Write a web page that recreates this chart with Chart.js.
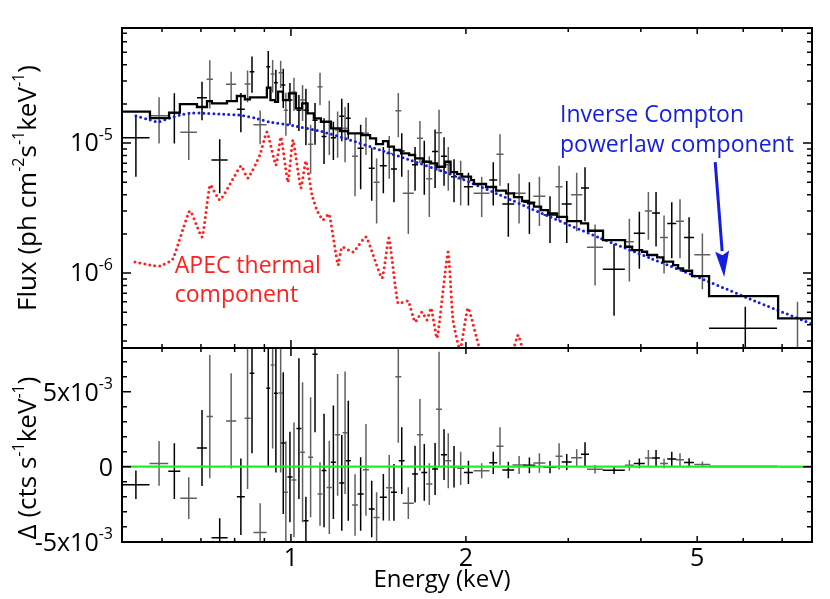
<!DOCTYPE html>
<html>
<head>
<meta charset="utf-8">
<script src="https://cdn.jsdelivr.net/npm/chart.js@4.4.1/dist/chart.umd.min.js"></script>
<style>
  html, body { margin: 0; padding: 0; background: #fff; }
  #wrap { position: relative; width: 830px; height: 599px; }
  #topBox { position: absolute; left: 0; top: 0; width: 830px; height: 350px; }
  #botBox { position: absolute; left: 0; top: 346px; width: 830px; height: 253px; }
</style>
</head>
<body>
<div id="wrap">
  <div id="topBox"><canvas id="chartTop"></canvas></div>
  <div id="botBox"><canvas id="chartBottom"></canvas></div>
</div>
<script>
// Spectrum points (keV), half bin widths (keV)
const energy = [0.541,0.593,0.630,0.667,0.703,0.725,0.754,0.789,0.820,0.842,
                0.857,0.885,0.914,0.930,0.942,0.960,0.970,0.980,0.996,1.012,
                1.032,1.047,1.061,1.081,1.100,1.122,1.140,1.164,1.183,1.203,
                1.223,1.239,1.255,1.289,1.318,1.346,1.377,1.404,1.442,1.476,
                1.504,1.530,1.551,1.592,1.635,1.667,1.696,1.730,1.770,1.798,
                1.834,1.865,1.908,1.959,2.020,2.129,2.229,2.289,2.366,2.469,
                2.572,2.676,2.791,2.893,2.982,3.102,3.206,3.336,3.597,3.822,
                3.976,4.121,4.248,4.385,4.521,4.671,4.842,5.104,6.05,7.44];
const energyErr = [0.030,0.022,0.015,0.022,0.014,0.009,0.024,0.016,0.013,0.010,
                   0.008,0.023,0.007,0.007,0.007,0.008,0.008,0.008,0.010,0.010,
                   0.010,0.010,0.011,0.011,0.011,0.011,0.011,0.012,0.012,0.012,
                   0.012,0.012,0.012,0.015,0.016,0.016,0.016,0.017,0.020,0.018,
                   0.018,0.018,0.018,0.035,0.019,0.020,0.020,0.021,0.021,0.021,
                   0.022,0.022,0.023,0.027,0.036,0.067,0.035,0.032,0.056,0.064,
                   0.061,0.064,0.072,0.040,0.059,0.068,0.051,0.106,0.157,0.068,
                   0.087,0.057,0.067,0.069,0.081,0.074,0.096,0.162,0.81,0.50];

// Flux, in units of 1e-5 ph cm^-2 s^-1 keV^-1
const FLUX_UNIT = 1e-5;
const flux = [1.10,1.62,1.70,1.21,2.23,3.09,0.74,2.83,1.82,2.84,
              3.54,1.38,3.86,3.40,2.91,3.47,2.79,1.79,2.14,2.47,
              1.79,2.14,1.79,0.98,1.50,2.71,1.12,1.46,1.10,1.26,
              1.61,1.30,1.55,0.79,0.91,1.19,0.64,0.50,0.67,0.83,
              0.63,1.77,0.87,0.41,0.68,1.09,0.72,0.53,0.86,1.20,
              0.79,0.68,0.55,0.53,0.46,0.41,0.52,0.82,0.34,0.41,
              0.35,0.39,0.28,0.46,0.34,0.40,0.45,0.158,0.107,0.174,
              0.202,0.30,0.29,0.188,0.24,0.25,0.188,0.138,0.0376,0.022];
const fluxErr = [0.55,0.63,0.71,0.47,0.73,1.25,0.33,0.70,0.61,0.78,
                 1.10,0.40,1.24,0.95,0.75,0.82,0.93,0.65,0.76,0.71,
                 0.55,0.66,0.83,0.40,0.53,0.76,0.43,0.65,0.36,0.49,
                 0.58,0.59,0.48,0.40,0.47,0.38,0.28,0.26,0.26,0.30,
                 0.28,0.66,0.32,0.21,0.25,0.39,0.32,0.26,0.41,0.60,
                 0.32,0.25,0.20,0.20,0.13,0.14,0.19,0.35,0.15,0.17,
                 0.15,0.16,0.11,0.21,0.17,0.19,0.20,0.078,0.060,0.088,
                 0.094,0.12,0.13,0.089,0.11,0.12,0.081,0.063,0.0175,0.038];

// Residuals, in units of 1e-3 cts s^-1 keV^-1
const RESID_UNIT = 1e-3;
const resid = [-1.2,0.22,-0.3,-2.1,1.25,3.34,-4.73,3.05,-2.0,3.22,
               6.22,-4.38,5.22,6.78,4.89,4.91,1.57,-1.7,-0.69,-0.88,
               2.54,0.96,-3.6,0.63,7.5,-1.82,-0.26,-1.38,0.29,2.12,
               -1.08,2.26,0.4,-2.55,-1.82,-0.21,-2.82,-3.38,-2.04,-1.41,
               -1.71,6.0,0.4,-2.43,-0.49,2.12,-0.38,-1.16,-0.16,3.83,
               0.8,0.39,0.0,-0.11,-0.38,-0.27,0.26,1.37,-0.22,0.11,
               0.09,0.25,-0.03,0.69,0.31,0.6,0.83,-0.17,-0.24,0.09,
               0.22,0.58,0.58,0.22,0.52,0.47,0.28,0.15,0.01,0.0];
const residErr = [0.95,1.49,1.86,1.39,2.53,4.11,1.3,3.17,2.55,4.7,
                  5.33,1.94,5.22,5.56,5.27,5.29,4.72,3.4,3.02,3.83,
                  4.69,4.67,1.6,4.0,5.2,2.11,3.78,3.11,3.78,4.05,
                  3.19,4.08,4.0,2.05,2.45,3.06,1.89,1.67,1.55,2.19,
                  1.89,4.4,2.22,1.06,1.89,2.39,1.89,1.39,1.73,3.83,
                  1.69,1.83,1.38,1.11,0.78,0.5,0.74,1.26,0.55,0.6,
                  0.53,0.65,0.41,0.87,0.53,0.56,0.79,0.28,0.25,0.36,
                  0.33,0.53,0.53,0.33,0.48,0.43,0.28,0.19,0.03,0.03];

// Total model histogram: bin edges (keV) and values (1e-5 units)
const modelEdges = [0.512,0.572,0.617,0.644,0.689,0.717,0.731,0.776,0.807,0.833,
                    0.850,0.909,0.922,0.939,0.950,0.969,0.992,1.020,1.045,1.068,
                    1.095,1.126,1.172,1.214,1.254,1.325,1.368,1.401,1.440,1.469,
                    1.504,1.547,1.597,1.635,1.687,1.742,1.784,1.841,1.882,1.931,
                    1.970,2.041,2.065,2.166,2.253,2.345,2.420,2.498,2.558,2.619,
                    2.694,2.769,2.870,2.985,3.156,3.245,3.443,3.757,3.864,4.019,
                    4.100,4.266,4.368,4.545,4.636,4.728,4.900,5.241,6.890,7.884];
const totalModel = [1.741,1.557,1.716,1.995,1.892,2.104,2.020,2.104,2.299,2.169,
                    2.246,2.663,2.141,2.078,2.481,2.141,2.412,1.849,2.020,1.692,
                    1.549,1.458,1.297,1.237,1.188,1.152,1.087,0.982,1.036,0.937,
                    0.884,0.833,0.809,0.763,0.718,0.698,0.657,0.718,0.598,0.577,
                    0.552,0.519,0.484,0.459,0.431,0.410,0.384,0.358,0.344,0.324,
                    0.305,0.287,0.270,0.251,0.241,0.2115,0.179,0.1593,0.150,0.1458,
                    0.1376,0.1321,0.1222,0.1152,0.1087,0.1041,0.0948,0.0665,0.0448];

// Inverse Compton power law component
const powerlawE = [0.541,0.572,0.590,0.619,0.644,0.670,0.697,0.755,0.817,0.867,0.920,0.996,
                   1.122,1.264,1.423,1.602,1.878,2.289,2.791,3.402,4.148,5.058,6.166,7.884];
const powerlawFlux = [1.613,1.503,1.45,1.557,1.642,1.70,1.70,1.671,1.642,1.557,1.45,1.375,
                      1.237,1.054,0.884,0.740,0.577,0.398,0.270,0.186,0.1304,0.0915,0.0631,0.0405];

// APEC thermal component
const apecE = [0.539,0.572,0.595,0.626,0.670,0.703,0.726,0.755,0.820,0.843,
               0.884,0.909,0.942,0.961,0.988,1.008,1.040,1.061,1.087,1.108,
               1.135,1.163,1.205,1.224,1.279,1.346,1.434,1.474,1.528,1.590,
               1.635,1.680,1.714,1.742,1.784,1.863,1.900,1.954,2.017,2.115,
               2.245,2.411,2.459,2.508,2.682,3.402];
const apecFlux = [0.1215,0.1152,0.1132,0.1281,0.300,0.1891,0.4752,0.364,0.6653,0.538,
                  0.8086,1.215,0.6772,1.112,0.501,1.054,0.4506,0.727,0.398,0.305,
                  0.256,0.2843,0.1152,0.1585,0.145,0.1891,0.0915,0.186,0.0588,0.0609,
                  0.042,0.0501,0.0435,0.0538,0.0316,0.145,0.0435,0.0256,0.0538,0.0256,
                  0.0150,0.0256,0.0333,0.0256,0.014,0.0075];

// Axes
const xMin = 0.512, xMax = 7.88;
const xMajor = [1, 2, 5];
const xMinor = [0.6, 0.7, 0.8, 0.9, 3, 4, 6, 7];
const fluxMin = 2.65e-7, fluxMax = 7.67e-5;
const fluxMajor = [1e-6, 1e-5];
const fluxMinor = [3e-7,4e-7,5e-7,6e-7,7e-7,8e-7,9e-7,2e-6,3e-6,4e-6,5e-6,6e-6,7e-6,8e-6,9e-6,2e-5,3e-5,4e-5,5e-5,6e-5,7e-5];
const fluxTickLabels = [[1e-5, '10', '-5'], [1e-6, '10', '-6']];
const residMin = -5.02e-3, residMax = 7.91e-3;
const residMajor = [-5e-3, 0, 5e-3];
const residMinor = [-4e-3,-3e-3,-2e-3,-1e-3,1e-3,2e-3,3e-3,4e-3,6e-3,7e-3];
const residTickLabels = [[5e-3, '5x10', '-3'], [0, '0', ''], [-5e-3, '-5x10', '-3']];

const FONT = "'Open Sans', 'DejaVu Sans', sans-serif";
const RED = 'rgb(255,32,32)';
const BLUE = 'rgb(20,30,225)';
const TICK_FONT = 25;
const TITLE_FONT = 26;

// error bar crosses as broken line segments
function crosses(parity, yVals, yErrs, unit, floor) {
    const pts = [];
    energy.forEach((e, i) => {
        if (i % 2 !== parity) return;
        const y = yVals[i] * unit, dy = yErrs[i] * unit, dx = energyErr[i];
        pts.push({x: e - dx, y: y}, {x: e + dx, y: y}, {x: e, y: null},
                 {x: e, y: Math.max(y - dy, floor)}, {x: e, y: y + dy}, {x: e, y: null});
    });
    return pts;
}

function lineSet(data, color, width, extra) {
    return Object.assign({data: data, borderColor: color, borderWidth: width,
        pointRadius: 0, fill: false, spanGaps: false}, extra || {});
}

function rich(ctx, parts, x, y, size, align) {
    const sup = Math.round(size * 0.62);
    const widths = parts.map(p => { ctx.font = (p[1] ? sup : size) + 'px ' + FONT; return ctx.measureText(p[0]).width; });
    const total = widths.reduce((s, w) => s + w, 0);
    let cx = align === 'right' ? x - total : (align === 'center' ? x - total / 2 : x);
    ctx.textAlign = 'left';
    ctx.textBaseline = 'alphabetic';
    parts.forEach((p, i) => {
        ctx.font = (p[1] ? sup : size) + 'px ' + FONT;
        ctx.fillText(p[0], cx, p[1] ? y - size * 0.45 : y);
        cx += widths[i];
    });
}

function frameAndTicks(ctx, a, xs, ys, yMajor, yMinor) {
    ctx.strokeStyle = '#000';
    ctx.lineWidth = 1.5;
    ctx.beginPath();
    xMinor.forEach(v => tickX(v, 4));
    xMajor.forEach(v => tickX(v, v === 1 ? 8 : 6));
    yMinor.forEach(v => tickY(v, 5));
    yMajor.forEach(v => tickY(v, 9));
    ctx.stroke();
    ctx.lineWidth = 2;
    ctx.strokeRect(a.left, a.top, a.right - a.left, a.bottom - a.top);

    function tickX(v, len) {
        const px = xs.getPixelForValue(v);
        ctx.moveTo(px, a.top); ctx.lineTo(px, a.top + len);
        ctx.moveTo(px, a.bottom); ctx.lineTo(px, a.bottom - len);
    }
    function tickY(v, len) {
        const py = ys.getPixelForValue(v);
        ctx.moveTo(a.left, py); ctx.lineTo(a.left + len, py);
        ctx.moveTo(a.right, py); ctx.lineTo(a.right - len, py);
    }
}

function yTitle(ctx, parts, x, cy) {
    ctx.save();
    ctx.translate(x, cy);
    ctx.rotate(-Math.PI / 2);
    ctx.fillStyle = '#000';
    rich(ctx, parts, 0, 0, TITLE_FONT, 'center');
    ctx.restore();
}

const topDecor = {
    id: 'topDecor',
    afterDatasetsDraw(chart) {
        const {ctx, chartArea: a} = chart;
        const xs = chart.scales.x, ys = chart.scales.y;
        ctx.save();
        frameAndTicks(ctx, a, xs, ys, fluxMajor, fluxMinor);
        ctx.fillStyle = '#000';
        fluxTickLabels.forEach(t => rich(ctx, [[t[1], false], [t[2], true]], a.left - 9, ys.getPixelForValue(t[0]) + 8, TICK_FONT, 'right'));
        yTitle(ctx, [['Flux (ph cm', false], ['-2', true], ['s', false], ['-1', true], ['keV', false], ['-1', true], [')', false]], 36, 188);

        // annotations
        ctx.font = '23px ' + FONT;
        ctx.textAlign = 'left';
        ctx.textBaseline = 'alphabetic';
        ctx.fillStyle = RED;
        ctx.fillText('APEC thermal', xs.getPixelForValue(0.631), ys.getPixelForValue(9.95e-7));
        ctx.fillText('component', xs.getPixelForValue(0.631), ys.getPixelForValue(6.01e-7));
        ctx.fillStyle = BLUE;
        ctx.fillText('Inverse Compton', xs.getPixelForValue(2.904), ys.getPixelForValue(1.458e-5));
        ctx.fillText('powerlaw component', xs.getPixelForValue(2.904), ys.getPixelForValue(8.57e-6));

        // arrow
        const x0 = xs.getPixelForValue(5.37), y0 = ys.getPixelForValue(7.14e-6);
        const x1 = xs.getPixelForValue(5.564), y1 = ys.getPixelForValue(9.31e-7);
        const ang = Math.atan2(y1 - y0, x1 - x0);
        const head = 26, half = 7;
        const bx = x1 - head * Math.cos(ang), by = y1 - head * Math.sin(ang);
        ctx.strokeStyle = BLUE;
        ctx.lineWidth = 3;
        ctx.beginPath();
        ctx.moveTo(x0, y0);
        ctx.lineTo(bx, by);
        ctx.stroke();
        ctx.beginPath();
        ctx.moveTo(x1, y1);
        ctx.lineTo(bx + half * Math.sin(ang), by - half * Math.cos(ang));
        ctx.lineTo(bx + 4 * Math.cos(ang), by + 4 * Math.sin(ang));
        ctx.lineTo(bx - half * Math.sin(ang), by + half * Math.cos(ang));
        ctx.closePath();
        ctx.fill();
        ctx.restore();
    }
};

const bottomDecor = {
    id: 'bottomDecor',
    afterDatasetsDraw(chart) {
        const {ctx, chartArea: a} = chart;
        const xs = chart.scales.x, ys = chart.scales.y;
        ctx.save();
        frameAndTicks(ctx, a, xs, ys, residMajor, residMinor);
        ctx.fillStyle = '#000';
        residTickLabels.forEach(t => rich(ctx, [[t[1], false], [t[2], true]], a.left - 9, ys.getPixelForValue(t[0]) + 9, TICK_FONT, 'right'));
        xMajor.forEach(v => rich(ctx, [[String(v), false]], xs.getPixelForValue(v), a.bottom + 24, TICK_FONT, 'center'));
        rich(ctx, [['Energy (keV)', false]], 442, a.bottom + 45, 24, 'center');
        yTitle(ctx, [['\u0394 (cts s', false], ['-1', true], ['keV', false], ['-1', true], [')', false]], 36, 112);
        ctx.restore();
    }
};

function baseOptions(yScale, padding) {
    return {
        responsive: true,
        maintainAspectRatio: false,
        animation: false,
        events: [],
        layout: {padding: padding},
        plugins: {legend: {display: false}, tooltip: {enabled: false}},
        scales: {
            x: {type: 'logarithmic', min: xMin, max: xMax, display: false},
            y: yScale
        }
    };
}

const dotted = {borderDash: [0, 5], borderCapStyle: 'round', tension: 0.15};

new Chart(document.getElementById('chartTop'), {
    type: 'line',
    data: {
        datasets: [
            lineSet(modelEdges.map((e, i) => ({x: e, y: totalModel[Math.min(i, totalModel.length - 1)] * FLUX_UNIT})),
                    '#000', 2.3, {stepped: 'before', order: 1}),
            lineSet(powerlawE.map((e, i) => ({x: e, y: powerlawFlux[i] * FLUX_UNIT})), BLUE, 3, Object.assign({order: 2}, dotted)),
            lineSet(apecE.map((e, i) => ({x: e, y: apecFlux[i] * FLUX_UNIT})), RED, 3, Object.assign({order: 3}, dotted)),
            lineSet(crosses(0, flux, fluxErr, FLUX_UNIT, fluxMin / 100), '#000', 1.5, {order: 4}),
            lineSet(crosses(1, flux, fluxErr, FLUX_UNIT, fluxMin / 100), '#606060', 1.5, {order: 5})
        ]
    },
    options: baseOptions({type: 'logarithmic', min: fluxMin, max: fluxMax, display: false},
                         {left: 122, right: 18, top: 28, bottom: 2}),
    plugins: [topDecor]
});

new Chart(document.getElementById('chartBottom'), {
    type: 'line',
    data: {
        datasets: [
            lineSet([{x: xMin, y: 0}, {x: xMax, y: 0}], 'rgb(30,240,30)', 2.2, {order: 0}),
            lineSet(crosses(0, resid, residErr, RESID_UNIT, -Infinity), '#000', 1.5, {order: 4}),
            lineSet(crosses(1, resid, residErr, RESID_UNIT, -Infinity), '#606060', 1.5, {order: 5})
        ]
    },
    options: baseOptions({type: 'linear', min: residMin, max: residMax, display: false},
                         {left: 122, right: 18, top: 2, bottom: 57}),
    plugins: [bottomDecor]
});
</script>
</body>
</html>
